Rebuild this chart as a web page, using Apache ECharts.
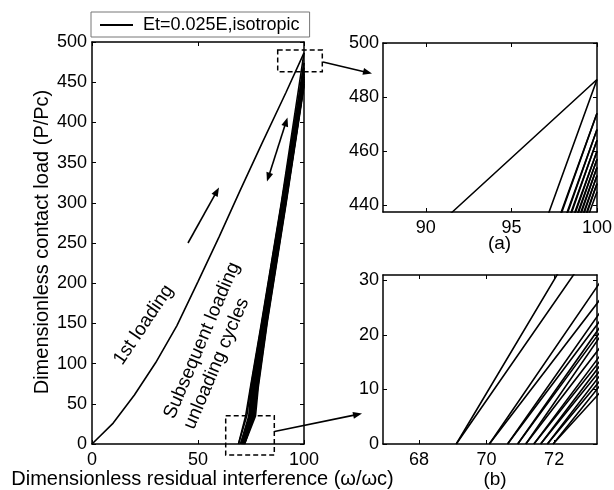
<!DOCTYPE html>
<html>
<head>
<meta charset="utf-8">
<script src="https://cdn.jsdelivr.net/npm/echarts@6/dist/echarts.min.js"></script>
<style>html,body{margin:0;padding:0;background:#fff}#c{width:614px;height:490px}</style>
</head>
<body>
<div id="c"></div>
<script>
// ---------------- data ----------------
const legendName = 'Et=0.025E,isotropic';
// 1st loading curve
const firstLoadingX = [0, 10, 20, 30, 40, 50, 60, 70, 80, 91.55, 100];
const firstLoadingY = [0, 26, 61, 101, 147, 202, 258, 316, 373, 437.5, 486.5];
// subsequent loading / unloading cycles: residual interference read at these loads
const cycleLoads = [0, 35, 70, 150, 300, 437.5];
// peak loads reached at residual interference 100 (cycle i unloads from peak i, reloads to peak i+1)
const peakLoads = [486.5, 474, 468, 464, 460, 457, 454, 451, 448, 445];
const unloadX = [
  [69.10, 72.47, 74.70, 79.90, 89.30, 97.20],
  [70.08, 73.95, 75.14, 80.22, 89.57, 97.95],
  [70.62, 74.59, 75.57, 80.54, 89.84, 98.30],
  [70.92, 74.90, 76.01, 80.85, 90.11, 98.53],
  [71.16, 75.07, 76.44, 81.17, 90.38, 98.75],
  [71.40, 75.63, 76.88, 81.49, 90.65, 98.93],
  [71.60, 75.88, 77.31, 81.81, 90.92, 99.10],
  [71.80, 76.14, 77.75, 82.12, 91.19, 99.27],
  [71.97, 76.50, 78.18, 82.44, 91.46, 99.44]
];
const reloadX = [
  [69.10, 73.02, 74.92, 80.06, 89.44, 97.91],
  [70.08, 74.41, 75.35, 80.38, 89.71, 98.26],
  [70.62, 74.86, 75.79, 80.69, 89.98, 98.49],
  [70.92, 75.08, 76.22, 81.01, 90.25, 98.71],
  [71.16, 75.51, 76.66, 81.33, 90.52, 98.89],
  [71.40, 75.90, 77.09, 81.65, 90.79, 99.06],
  [71.60, 76.18, 77.53, 81.96, 91.06, 99.23],
  [71.80, 76.50, 77.96, 82.28, 91.33, 99.40],
  [71.97, 77.12, 78.40, 82.60, 91.60, 99.57]
];
const fullInterference = 100;
// tick values
const mainXTicks = [0, 50, 100];
const mainYTicks = [0, 50, 100, 150, 200, 250, 300, 350, 400, 450, 500];
const aXTicks = [90, 95, 100];
const aYTicks = [440, 460, 480, 500];
const bXTicks = [68, 70, 72];
const bYTicks = [0, 10, 20, 30];
// axis ranges
const mainRange = {xmin: 0, xmax: 100, ymin: 0, ymax: 500};
const aRange = {xmin: 87.5, xmax: 100, ymin: 437.5, ymax: 500};
const bRange = {xmin: 66.93, xmax: 73.27, ymin: 0, ymax: 31};

// ---------------- chart ----------------
const FONT = '"Liberation Sans", Arial, Helvetica, sans-serif';
const chart = echarts.init(document.getElementById('c'), null, {renderer: 'canvas'});

const grids = [
  {left: 92, top: 42, width: 212, height: 402},
  {left: 383, top: 43, width: 214, height: 169},
  {left: 383, top: 275, width: 214, height: 169}
];
grids.forEach(g => { g.show = false; g.containLabel = false; g.outerBoundsMode = 'none'; });

const xAxes = [], yAxes = [];
function addAxes(gi, r, xt, yt, labelMarginY) {
  const base = {
    type: 'value', gridIndex: gi, scale: false,
    splitLine: {show: false},
    axisLine: {show: true, onZero: false, lineStyle: {color: '#000', width: 1.5}},
  };
  const tick = vals => ({show: true, inside: true, length: 4, customValues: vals, lineStyle: {color: '#000', width: 1}});
  const lab = (vals, margin) => ({show: true, customValues: vals, margin: margin, color: '#000',
    fontSize: 18, fontFamily: FONT, showMinLabel: true, showMaxLabel: true,
    formatter: v => (vals.indexOf(+(+v).toFixed(4)) >= 0 ? String(+(+v).toFixed(4)) : '')});
  xAxes.push(Object.assign({}, base, {position: 'bottom', min: r.xmin, max: r.xmax,
    axisTick: tick(xt), axisLabel: lab(xt, 7)}));
  xAxes.push(Object.assign({}, base, {position: 'top', min: r.xmin, max: r.xmax,
    axisTick: tick(xt), axisLabel: {show: false}}));
  yAxes.push(Object.assign({}, base, {position: 'left', min: r.ymin, max: r.ymax,
    axisTick: tick(yt), axisLabel: lab(yt, labelMarginY)}));
  yAxes.push(Object.assign({}, base, {position: 'right', min: r.ymin, max: r.ymax,
    axisTick: tick(yt), axisLabel: {show: false}}));
}
addAxes(0, mainRange, mainXTicks, mainYTicks, 5);
addAxes(1, aRange, aXTicks, aYTicks, 4);
addAxes(2, bRange, bXTicks, bYTicks, 4);

const series = [];
const lineStyle = {color: '#000', width: 1.6};
for (let g = 0; g < 3; g++) {
  const xi = g * 2, yi = g * 2;
  series.push({
    name: legendName, type: 'line', xAxisIndex: xi, yAxisIndex: yi,
    data: firstLoadingX.map((x, k) => [x, firstLoadingY[k]]),
    symbol: 'none', lineStyle: lineStyle, itemStyle: {color: '#000'},
    clip: true, silent: true, animation: false
  });
  for (let i = 0; i < unloadX.length; i++) {
    const un = [[fullInterference, peakLoads[i]]];
    for (let k = cycleLoads.length - 1; k >= 0; k--) un.push([unloadX[i][k], cycleLoads[k]]);
    series.push({name: 'unload' + (i + 1), type: 'line', xAxisIndex: xi, yAxisIndex: yi, data: un,
      symbol: 'none', lineStyle: lineStyle, clip: true, silent: true, animation: false});
    const re = cycleLoads.map((l, k) => [reloadX[i][k], l]);
    re.push([fullInterference, peakLoads[i + 1]]);
    series.push({name: 'reload' + (i + 1), type: 'line', xAxisIndex: xi, yAxisIndex: yi, data: re,
      symbol: 'none', lineStyle: lineStyle, clip: true, silent: true, animation: false});
  }
}

// ---------- annotations ----------
function arrow(x1, y1, x2, y2, both) {
  const els = [];
  const L = 9, W = 3.5;
  const a = Math.atan2(y2 - y1, x2 - x1), c = Math.cos(a), s = Math.sin(a);
  const head = (px, py, dc, ds) => ({type: 'polygon', shape: {points: [
    [px, py], [px - L * dc + W * ds, py - L * ds - W * dc], [px - L * dc - W * ds, py - L * ds + W * dc]]},
    style: {fill: '#000'}, z: 20});
  const sx = both ? x1 + (L - 1) * c : x1, sy = both ? y1 + (L - 1) * s : y1;
  els.push({type: 'line', shape: {x1: sx, y1: sy, x2: x2 - (L - 1) * c, y2: y2 - (L - 1) * s},
    style: {stroke: '#000', lineWidth: 1.6}, z: 20});
  els.push(head(x2, y2, c, s));
  if (both) els.push(head(x1, y1, -c, -s));
  return els;
}
function txt(x, y, text, size, rotDeg) {
  return {type: 'text', x: x, y: y, rotation: (rotDeg || 0) * Math.PI / 180, z: 20,
    style: {text: text, fill: '#000', font: size + 'px ' + FONT, align: 'center', verticalAlign: 'middle',
      textAlign: 'center', textVerticalAlign: 'middle'}};
}
const dash = {fill: 'none', stroke: '#000', lineWidth: 1.5, lineDash: [5, 3]};
const graphic = [].concat(
  arrow(188, 243, 219, 187.5, false),
  arrow(267, 181.5, 287.5, 117.5, true),
  arrow(323, 62, 372, 73.5, false),
  arrow(274.5, 431.5, 362, 413.5, false),
  [
    {type: 'rect', shape: {x: 277.7, y: 50, width: 44.6, height: 21.7}, style: dash, z: 20},
    {type: 'rect', shape: {x: 225.7, y: 415.7, width: 48.6, height: 39.3}, style: dash, z: 20},
    txt(143.5, 325, '1st loading', 19, 56),
    txt(202, 340.5, 'Subsequent loading', 19, 67),
    txt(216.5, 363.5, 'unloading cycles', 19, 67),
    txt(202.5, 479, 'Dimensionless residual interference (\u03c9/\u03c9c)', 20, 0),
    txt(42.5, 242, 'Dimensionless contact load (P/Pc)', 20, 90),
    txt(499.5, 244, '(a)', 19, 0),
    txt(495, 480, '(b)', 19, 0)
  ]
);

chart.setOption({
  backgroundColor: '#fff',
  animation: false,
  grid: grids,
  xAxis: xAxes,
  yAxis: yAxes,
  legend: {
    data: [legendName], left: 91, top: 12, orient: 'horizontal',
    itemWidth: 33, itemHeight: 14, padding: [4, 10, 3, 9],
    borderColor: '#777', borderWidth: 1, backgroundColor: '#fff', borderRadius: 0,
    textStyle: {color: '#000', fontSize: 18, fontFamily: FONT, padding: [0, 0, 0, 5]},
    selectedMode: false, icon: 'path://M0,6 L33,6 L33,8 L0,8 Z', itemStyle: {color: '#000'}
  },
  series: series,
  graphic: graphic
});
</script>
</body>
</html>
